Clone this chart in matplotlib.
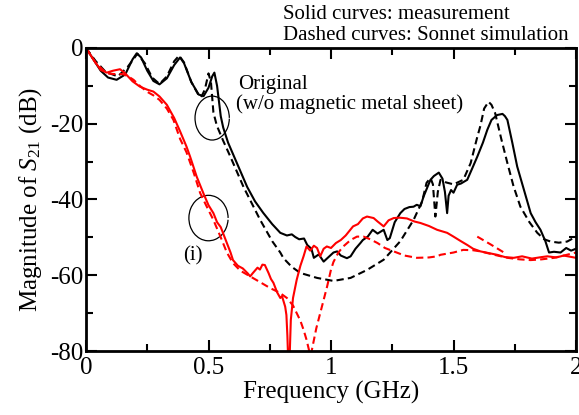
import matplotlib
matplotlib.use('Agg')
import matplotlib.pyplot as plt
from matplotlib.patches import Arc
from matplotlib.ticker import MultipleLocator

plt.rcParams['font.family'] = ['Liberation Serif', 'DejaVu Serif']
plt.rcParams['mathtext.fontset'] = 'custom'
plt.rcParams['mathtext.rm'] = 'Liberation Serif'
plt.rcParams['mathtext.it'] = 'Liberation Serif:italic'
plt.rcParams['axes.unicode_minus'] = False

# original (w/o sheet), measurement
orig_meas_f = [0, 0.03, 0.06, 0.09, 0.125, 0.16, 0.19, 0.207, 0.225, 0.25, 0.275, 0.30, 0.33, 0.36,
               0.384, 0.40, 0.43, 0.46, 0.48, 0.50, 0.515, 0.524, 0.535, 0.55, 0.56, 0.58, 0.60, 0.63,
               0.658, 0.69, 0.723, 0.76, 0.793, 0.82, 0.84, 0.854, 0.87, 0.89, 0.903, 0.92, 0.93, 0.95,
               0.97, 0.99, 1.01, 1.025, 1.04, 1.065, 1.08, 1.10, 1.12, 1.13, 1.15, 1.17, 1.19, 1.215,
               1.23, 1.24, 1.26, 1.283, 1.30, 1.32, 1.337, 1.35, 1.365, 1.378, 1.395, 1.406, 1.42, 1.44,
               1.455, 1.465, 1.474, 1.48, 1.49, 1.50, 1.515, 1.53, 1.556, 1.575, 1.597, 1.62, 1.638,
               1.655, 1.678, 1.70, 1.71, 1.72, 1.74, 1.76, 1.79, 1.815, 1.835, 1.855, 1.875, 1.89, 1.91,
               1.937, 1.96, 1.98, 2.0]
orig_meas_db = [0, -3, -6, -7.8, -8.4, -7, -3, -1.4, -2.5, -6, -8.7, -9.6, -8, -4.5,
                -2.5, -4, -9, -12.3, -12.7, -10.5, -7.5, -6.5, -10, -18, -21, -25, -28, -32.5,
                -36.7, -40.5, -43.5, -46.5, -48.8, -49.5, -49.2, -49.9, -50.5, -50.3, -52, -53, -55.4, -54.5,
                -56.4, -55.2, -54, -53.7, -54.8, -55.5, -55, -53, -51.5, -50.7, -49.8, -48, -49, -48,
                -50.7, -50.2, -46, -43.6, -42.5, -42, -41.9, -41.4, -41.8, -39.2, -36.5, -34.8, -33.8, -32.9,
                -34.5, -38, -43.6, -39, -37.5, -38.2, -36.1, -35.8, -34.8, -32, -28.7, -25, -21.6,
                -19, -17.7, -17.4, -18, -19, -25, -31.3, -38, -43.6, -46, -48, -51, -54, -53.8,
                -54, -52.8, -53.5, -53]

# original, Sonnet simulation
orig_sim_f = [0, 0.04, 0.08, 0.13, 0.17, 0.21, 0.24, 0.27, 0.30, 0.33, 0.36, 0.38, 0.40, 0.43, 0.46,
              0.47, 0.485, 0.50, 0.51, 0.52, 0.534, 0.56, 0.588, 0.643, 0.711, 0.76, 0.793, 0.806, 0.84,
              0.875, 0.943, 1.01, 1.08, 1.147, 1.215, 1.283, 1.337, 1.372, 1.39, 1.406, 1.416, 1.426,
              1.436, 1.447, 1.47, 1.50, 1.54, 1.57, 1.597, 1.61, 1.625, 1.643, 1.655, 1.67, 1.695, 1.72,
              1.745, 1.773, 1.81, 1.842, 1.87, 1.896, 1.93, 1.964, 2.0]
orig_sim_db = [0, -3.5, -6.3, -7.5, -5, -1.5, -4, -7.8, -9.5, -7.5, -3.5, -2, -3.8, -9, -12.5,
               -13, -11, -6.7, -9, -17, -20.5, -24.5, -28.5, -36.7, -45.4, -51, -54, -55.5, -57.8,
               -59.4, -60.7, -61.5, -60.7, -58.6, -55.9, -51, -45.4, -40.5, -35.6, -34.3, -36, -44.5,
               -38, -34.8, -35.5, -36, -34.8, -30.4, -23.5, -20.5, -16, -14.2, -15, -17.2, -24, -30.4,
               -36.5, -41.9, -46, -48.8, -50.5, -51.1, -51.4, -51.1, -49.8]

# (i) with magnetic metal sheet, measurement
sheet_meas_f = [0, 0.03, 0.06, 0.085, 0.11, 0.139, 0.16, 0.19, 0.22, 0.25, 0.275, 0.30, 0.33, 0.36,
                0.384, 0.41, 0.425, 0.452, 0.48, 0.50, 0.52, 0.535, 0.55, 0.575, 0.59, 0.60, 0.62,
                0.64, 0.66, 0.67, 0.68, 0.70, 0.71, 0.72, 0.73, 0.745, 0.755, 0.765, 0.78, 0.793, 0.80,
                0.813, 0.818, 0.822, 0.826, 0.83, 0.836, 0.845, 0.86, 0.875, 0.888, 0.90, 0.915, 0.93,
                0.943, 0.956, 0.97, 0.983, 1.0, 1.02, 1.04, 1.06, 1.09, 1.11, 1.13, 1.147, 1.174, 1.19,
                1.215, 1.235, 1.256, 1.28, 1.31, 1.34, 1.365, 1.40, 1.433, 1.474, 1.50, 1.53, 1.556,
                1.58, 1.61, 1.64, 1.678, 1.71, 1.746, 1.78, 1.82, 1.86, 1.883, 1.92, 1.95, 2.0]
sheet_meas_db = [0, -3, -5.8, -6.5, -6, -5.6, -6.7, -8.8, -10.2, -11, -11.5, -12.8, -15, -18.5,
                 -22, -26, -28.7, -34, -38.5, -41.5, -43.6, -46, -47.3, -51.5, -54, -56, -57.5,
                 -58.2, -59.5, -60.3, -59.5, -58, -58.5, -57.2, -57.3, -59.4, -61, -62, -64.5, -66, -65.5,
                 -68.3, -70.5, -76, -84, -84, -71.8, -66, -61.2, -57.5, -55, -52.4, -53.5, -52.2,
                 -52.8, -55, -53, -52.4, -52.8, -51.5, -50.7, -49.5, -47.1, -46.5, -45, -44.5, -44.9, -45.8,
                 -47.1, -45.5, -44.9, -44.8, -45, -45.8, -46.2, -47, -48, -48.8, -49.8, -51, -52,
                 -53, -53.7, -54.1, -54.6, -55.2, -55.4, -55, -55.6, -55.2, -55, -55.3, -54.8, -55.4]

# (i) Sonnet simulation
sheet_sim_f = [0, 0.04, 0.085, 0.12, 0.152, 0.175, 0.194, 0.22, 0.248, 0.275, 0.30, 0.33, 0.357,
               0.384, 0.41, 0.44, 0.466, 0.49, 0.52, 0.55, 0.575, 0.60, 0.63, 0.67, 0.71, 0.752, 0.79,
               0.82, 0.845, 0.86, 0.875, 0.888, 0.90, 0.91, 0.915, 0.918, 0.922, 0.94, 0.956, 0.97,
               0.984, 1.0, 1.01, 1.03, 1.05, 1.08, 1.106, 1.133, 1.16, 1.19, 1.22, 1.256, 1.30, 1.35,
               1.40, 1.433, 1.447, 1.50, 1.54, 1.58, 1.61, 1.66, 1.72, 1.77, 1.815, 1.86, 1.91, 1.95, 2.0]
sheet_sim_db = [0, -4, -6.7, -6.9, -6.9, -7.6, -8.4, -10, -11.5, -12.5, -13.7, -16, -19,
                -24, -27.5, -33, -38.3, -41.5, -45.4, -50, -54, -56.8, -58.8, -60.3, -61.8, -63.4, -64.6,
                -66, -68, -70, -72, -74.4, -77, -79.7, -84, -84, -79.7, -74, -70, -66.5,
                -63, -58.5, -56.5, -54, -52.4, -50.7, -49.8, -49.8, -50.5, -51.5, -52.8, -53.7, -54.8, -55.4,
                -55.3, -55, -54.6, -54, -53.3, -53.4, -53.7, -54.5, -55.4, -55.8, -56, -55.8, -55.4, -54.8, -54]

# short extra simulated segment near 1.6-1.7 GHz
sheet_sim2_f = [1.597, 1.65, 1.706]
sheet_sim2_db = [-49.8, -51.8, -54]

fig = plt.figure(figsize=(5.79, 4.15), dpi=100)
ax = fig.add_axes([86 / 579, 1 - 351 / 415, 490 / 579, 303 / 415])

dash = (0, (3.5, 2))
ax.plot(orig_meas_f, orig_meas_db, color='black', lw=1.5)
ax.plot(orig_sim_f, orig_sim_db, color='black', lw=1.5, linestyle=dash)
ax.plot(sheet_meas_f, sheet_meas_db, color='red', lw=1.5)
ax.plot(sheet_sim_f, sheet_sim_db, color='red', lw=1.5, linestyle=dash)
ax.plot(sheet_sim2_f, sheet_sim2_db, color='red', lw=1.5, linestyle=dash)

ax.set_xlim(0, 2)
ax.set_ylim(-80, 0)
ax.xaxis.set_major_locator(MultipleLocator(0.5))
ax.xaxis.set_minor_locator(MultipleLocator(0.25))
ax.yaxis.set_major_locator(MultipleLocator(20))
ax.yaxis.set_minor_locator(MultipleLocator(10))
ax.set_xticks([0, 0.5, 1, 1.5, 2], ['0', '0.5', '1', '1.5', '2'])
ax.tick_params(which='both', direction='in', top=True, right=True, width=1.5, labelsize=18)
ax.tick_params(axis='x', pad=4)
ax.tick_params(axis='y', pad=2)
ax.tick_params(which='major', length=8)
ax.tick_params(which='minor', length=5)
for s in ax.spines.values():
    s.set_linewidth(2)

ax.set_xlabel('Frequency (GHz)', fontsize=18, labelpad=2)
ax.set_ylabel('Magnitude of $S_{21}$ (dB)', fontsize=18, labelpad=4)

# curved pointer marks
ax.add_patch(Arc((0.515, -18.5), 0.14, 11.6, theta1=35, theta2=295, color='black', lw=0.9))
ax.add_patch(Arc((0.50, -44.9), 0.16, 12.0, theta1=20, theta2=280, color='black', lw=0.9))

ax.text(0.62, -9.6, 'Original', fontsize=15, va='center')
ax.text(0.612, -14.8, '(w/o magnetic metal sheet)', fontsize=15, va='center')
ax.text(0.395, -54.8, '(i)', fontsize=15, va='center')

fig.text(283 / 579, 1 - 19 / 415, 'Solid curves: measurement', fontsize=15, va='baseline')
fig.text(283 / 579, 1 - 40 / 415, 'Dashed curves: Sonnet simulation', fontsize=15, va='baseline')

fig.savefig('out.png', dpi=100)
